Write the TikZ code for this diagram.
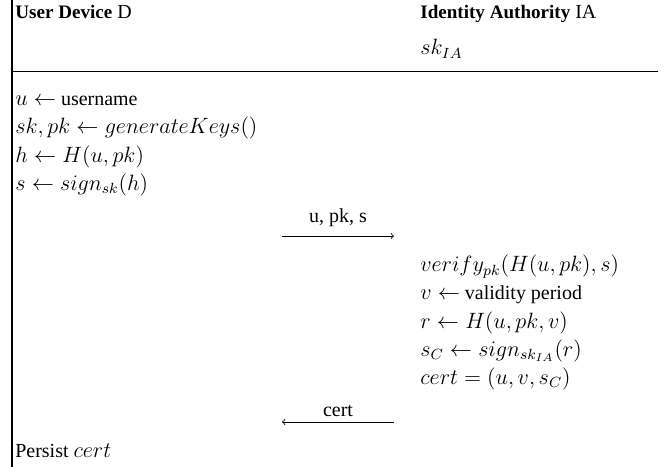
\documentclass[12pt,tikz,border=0pt]{standalone}
\usepackage{fontspec}
\setmainfont{Liberation Serif}[Scale=0.9,BoldFeatures={Scale=0.86}]
\tikzstyle{stmt}=[anchor=base west,inner sep=0pt]
\tikzstyle{msg}=[->,>=to]
\tikzstyle{lbl}=[above,inner sep=0pt,yshift=5pt]
\tikzstyle{rule}=[line width=0.8pt]
\usetikzlibrary{arrows,positioning}

\begin{document}
\begin{tikzpicture}[x=0.541pt,y=-0.541pt,node distance=15.15pt]
            \useasboundingbox (0,0) rectangle (671,467);

            % frame of the protocol
            \draw[rule] (12,0) -- (12,467);
            \draw[rule] (12,71.5) -- (658,71.5);

            % headers
            \node[stmt] (dev) at (15,19) {\textbf{User Device} D};
            \node[stmt] (ia) at (420,19) {\textbf{Identity Authority} IA};
            \node[stmt] (skia) at (420,55) {$sk_{IA}$};

            % DEVICE PART

            \node[stmt] (u) at (15,106) {$u \leftarrow$ username};
            \node[below=of u.base west,stmt] (keys) {$sk, pk \leftarrow generateKeys()$};
            \node[below=of keys.base west,stmt] (h) {$h \leftarrow H(u, pk)$};
            \node[below=of h.base west,stmt] (s) {$s \leftarrow sign_{sk}(h)$};

            \coordinate (m1a) at (282,236);
            \coordinate (m1b) at (394,236);
            \draw[msg] (m1a) -- node[lbl] {u, pk, s} (m1b);

            % AUTHORITY PART

            \node[stmt] (ver) at (420,272) {$verify_{pk}(H(u, pk), s)$};
            \node[below=of ver.base west,stmt] (v) {$v \leftarrow$ validity period};
            \node[below=of v.base west,stmt] (r) {$r \leftarrow H(u, pk, v)$};
            \node[below=of r.base west,stmt] (sc) {$s_C \leftarrow sign_{sk_{IA}}(r)$};
            \node[below=of sc.base west,stmt] (cert) {$cert = (u, v, s_C)$};

            \coordinate (m2a) at (394,422);
            \coordinate (m2b) at (282,422);
            \draw[msg] (m2a) -- node[lbl,yshift=-2.5pt] {cert} (m2b);

            \node[stmt] (persist) at (15,458) {Persist $cert$};

        \end{tikzpicture}
\end{document}
